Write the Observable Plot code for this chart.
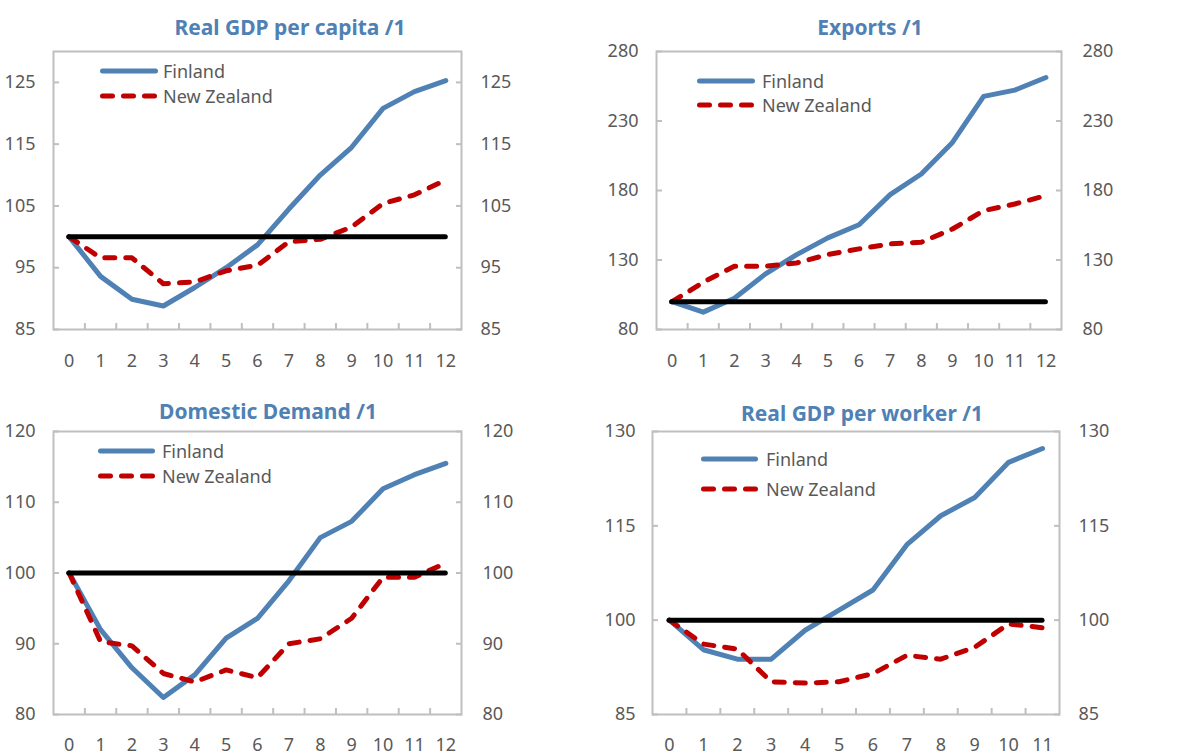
<!DOCTYPE html>
<html><head><meta charset="utf-8">
<script src="https://cdn.jsdelivr.net/npm/d3@7"></script>
<script src="https://cdn.jsdelivr.net/npm/@observablehq/plot@0.6"></script>
<style>
body{margin:0;background:#fff;}
#wrap{position:relative;width:1183px;height:756px;overflow:hidden;font-family:"Noto Sans",sans-serif;background:#fff;}
.panel{position:absolute;}
.title{position:absolute;font-weight:bold;font-size:21px;line-height:21px;color:#4f81b4;white-space:nowrap;transform:translateX(-50%);}
.legtxt{position:absolute;font-size:18px;line-height:24px;color:#595959;white-space:nowrap;}
.legsw{position:absolute;}
</style></head><body><div id="wrap"></div>
<script>
// ---- data ----
const yearsA = [0, 1, 2, 3, 4, 5, 6, 7, 8, 9, 10, 11, 12];
const yearsB = [0, 1, 2, 3, 4, 5, 6, 7, 8, 9, 10, 11];
const seriesNames = ["Finland", "New Zealand"];
const baseline = 100;

const gdpCapFinland = [100, 93.6, 89.9, 88.8, 91.8, 95.0, 98.7, 104.5, 110.0, 114.5, 120.8, 123.5, 125.3];
const gdpCapNZ      = [100, 96.6, 96.6, 92.4, 92.7, 94.5, 95.4, 99.2, 99.6, 101.6, 105.4, 106.8, 109.2];
const exportsFinland = [100, 92.5, 102.5, 120, 133.9, 145.9, 155.4, 177, 191.9, 214.6, 247.7, 252.2, 261.3];
const exportsNZ      = [100, 114, 125.5, 125.5, 127.9, 133.9, 138, 141.6, 142.8, 152.3, 165.5, 170.3, 176.3];
const demandFinland = [100, 92, 86.6, 82.4, 85.6, 90.8, 93.6, 98.9, 105, 107.3, 111.9, 113.9, 115.5];
const demandNZ      = [100, 90.3, 89.7, 85.8, 84.6, 86.3, 85.2, 90, 90.7, 93.6, 99.4, 99.4, 101.4];
const gdpWorkFinland = [100, 95.3, 93.8, 93.8, 98.4, 101.6, 104.8, 112, 116.6, 119.5, 125.1, 127.3];
const gdpWorkNZ      = [100, 96.2, 95.4, 90.2, 90, 90.2, 91.5, 94.4, 93.8, 95.7, 99.4, 98.8];

const ticksGdpCap = [85, 95, 105, 115, 125];
const ticksExports = [80, 130, 180, 230, 280];
const ticksDemand = [80, 90, 100, 110, 120];
const ticksGdpWork = [85, 100, 115, 130];

const titles = ["Real GDP per capita /1", "Exports /1", "Domestic Demand /1", "Real GDP per worker /1"];

// ---- layout ----
const BLUE = "#4f81b4", RED = "#c00000", GRAY = "#bfbfbf", TXT = "#595959";
const panels = [
  {title: titles[0], cats: yearsA, fin: gdpCapFinland, nz: gdpCapNZ, yDomain: [85, 130], yTicks: ticksGdpCap,
   left: 0, top: 0, w: 590, h: 378, mL: 53, mR: 129, mT: 51, mB: 49, lPad: 18, rPad: 19, xPad: 25,
   tX: 290, tY: 16.5, leg: {x1: 100, x2: 158, tx: 163, y: [71, 96]}},
  {title: titles[1], cats: yearsA, fin: exportsFinland, nz: exportsNZ, yDomain: [80, 280], yTicks: ticksExports,
   left: 590, top: 0, w: 593, h: 378, mL: 66, mR: 122, mT: 51, mB: 49, lPad: 18, rPad: 21, xPad: 25,
   tX: 870, tY: 16.5, leg: {x1: 697, x2: 755, tx: 762, y: [81, 105]}},
  {title: titles[2], cats: yearsA, fin: demandFinland, nz: demandNZ, yDomain: [80, 120], yTicks: ticksDemand,
   left: 0, top: 378, w: 590, h: 378, mL: 53, mR: 129, mT: 53, mB: 42, lPad: 18, rPad: 21, xPad: 23.5,
   tX: 268, tY: 400.7, leg: {x1: 98, x2: 155, tx: 162, y: [451, 476]}},
  {title: titles[3], cats: yearsB, fin: gdpWorkFinland, nz: gdpWorkNZ, yDomain: [85, 130], yTicks: ticksGdpWork,
   left: 590, top: 378, w: 593, h: 378, mL: 62, mR: 124, mT: 53, mB: 42, lPad: 17, rPad: 19, xPad: 23.5,
   tX: 862, tY: 403, leg: {x1: 701, x2: 758, tx: 766, y: [459, 489]}}
];

const wrap = document.getElementById("wrap");

function makePanel(p) {
  const n = p.cats.length;
  const rows = p.cats.map((c, i) => ({c, fin: p.fin[i], nz: p.nz[i]}));
  const bounds = p.cats.slice(0, -1).map(c => c + 0.5);
  const chart = Plot.plot({
    width: p.w, height: p.h,
    marginLeft: p.mL, marginRight: p.mR, marginTop: p.mT, marginBottom: p.mB,
    x: {type: "linear", domain: [p.cats[0] - 0.5, p.cats[n - 1] + 0.5], label: null},
    y: {domain: p.yDomain, label: null},
    style: {fontFamily: "Noto Sans", fontSize: "18px", color: TXT, background: "white", overflow: "visible"},
    marks: [
      Plot.frame({stroke: GRAY, strokeWidth: 2}),
      Plot.axisX({ticks: bounds, tickSize: -6, tickFormat: () => "", stroke: GRAY, strokeWidth: 2, label: null}),
      Plot.axisX({ticks: p.cats, tickSize: 0, tickPadding: p.xPad, tickFormat: d => String(d), fill: TXT, label: null}),
      Plot.axisY({ticks: p.yTicks, anchor: "left", tickSize: -6, tickFormat: () => "", stroke: GRAY, strokeWidth: 2, label: null}),
      Plot.axisY({ticks: p.yTicks, anchor: "right", tickSize: -6, tickFormat: () => "", stroke: GRAY, strokeWidth: 2, label: null}),
      Plot.axisY({ticks: p.yTicks, anchor: "left", tickSize: 0, tickPadding: p.lPad, fill: TXT, label: null}),
      Plot.axisY({ticks: p.yTicks, anchor: "right", tickSize: 0, tickPadding: p.rPad, fill: TXT, label: null}),
      Plot.lineY(rows, {x: "c", y: "fin", stroke: BLUE, strokeWidth: 5, strokeLinecap: "round", strokeLinejoin: "round"}),
      Plot.lineY(rows, {x: "c", y: "nz", stroke: RED, strokeWidth: 5, strokeDasharray: "10,11", strokeLinecap: "round", strokeLinejoin: "round"}),
      Plot.ruleY([baseline], {x1: () => p.cats[0], x2: () => p.cats[n - 1], stroke: "black", strokeWidth: 5, strokeLinecap: "round"})
    ]
  });
  const div = document.createElement("div");
  div.className = "panel";
  div.style.left = p.left + "px";
  div.style.top = p.top + "px";
  div.appendChild(chart);
  wrap.appendChild(div);

  const t = document.createElement("div");
  t.className = "title";
  t.style.left = p.tX + "px";
  t.style.top = p.tY + "px";
  t.textContent = p.title;
  wrap.appendChild(t);

  seriesNames.forEach((name, i) => {
    const y = p.leg.y[i];
    const w = p.leg.x2 - p.leg.x1;
    const sw = document.createElementNS("http://www.w3.org/2000/svg", "svg");
    sw.setAttribute("class", "legsw");
    sw.setAttribute("width", w);
    sw.setAttribute("height", 12);
    sw.style.left = p.leg.x1 + "px";
    sw.style.top = (y - 6) + "px";
    const ln = document.createElementNS("http://www.w3.org/2000/svg", "line");
    ln.setAttribute("x1", 2.5); ln.setAttribute("x2", w - 2.5);
    ln.setAttribute("y1", 6); ln.setAttribute("y2", 6);
    ln.setAttribute("stroke", i === 0 ? BLUE : RED);
    ln.setAttribute("stroke-width", 5);
    ln.setAttribute("stroke-linecap", "round");
    if (i === 1) ln.setAttribute("stroke-dasharray", "10,11");
    sw.appendChild(ln);
    wrap.appendChild(sw);
    const tx = document.createElement("div");
    tx.className = "legtxt";
    tx.style.left = p.leg.tx + "px";
    tx.style.top = (y + 1 - 12.6) + "px";
    tx.textContent = name;
    wrap.appendChild(tx);
  });
}
panels.forEach(makePanel);
</script></body></html>
